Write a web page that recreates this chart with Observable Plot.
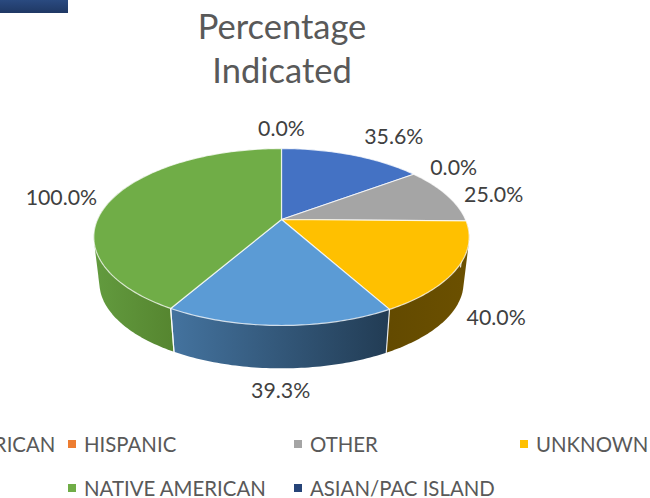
<!DOCTYPE html>
<html><head><meta charset="utf-8">
<script src="https://cdn.jsdelivr.net/npm/d3@7"></script>
<script src="https://cdn.jsdelivr.net/npm/@observablehq/plot@0.6"></script>
<style>
html,body{margin:0;padding:0;background:#fff;width:650px;height:498px;overflow:hidden;font-family:Lato,sans-serif}
#bar{position:absolute;left:0;top:0;width:68px;height:13px;background:linear-gradient(#2a4a80,#1f3864)}
#title{position:absolute;left:0;top:3.5px;width:564px;text-align:center;font-size:34.5px;line-height:44px;color:#595959;height:96px}
#chart{position:absolute;left:0;top:100px}
#legend{position:absolute;top:421.5px;left:-158px;display:grid;grid-template-columns:repeat(4,226px);grid-auto-rows:44px;font-size:20.4px;color:#595959}
#legend div{display:flex;align-items:center;white-space:nowrap}
#legend i{display:inline-block;width:8px;height:8px;margin-right:8px;flex:none}
svg{display:block}
</style></head><body>
<div id="bar"></div>
<div id="title">Percentage<br>Indicated</div>
<div id="chart"></div>
<div id="legend"></div>
<script>
const categories = ["AFRICAN AMERICAN","HISPANIC","OTHER","UNKNOWN","WHITE","NATIVE AMERICAN","ASIAN/PAC ISLAND"];
const values = [35.6,0,25,40,39.3,100,0];
const labels = ["35.6%","0.0%","25.0%","40.0%","39.3%","100.0%","0.0%"];
const colors = ["#4472C4","#ED7D31","#A5A5A5","#FFC000","#5B9BD5","#70AD47","#264478"];
const legendHidden = ["WHITE"]; // this entry lies beyond the right edge of the reference
const wallShades = {UNKNOWN:["#6b5000","#634a00"],WHITE:["#223c54","#44739f"],"NATIVE AMERICAN":["#568630","#629a3e"]};
const labelNudge = [[42,-17.5],[40,-6],[47,0],[39,50],[1,66],[-51,0],[0,-19]];

// perspective layout of the tilted disc
const top_ = {x0:281,y0:219,a:184,b:85}, bottom_ = {x0:281,y0:265,a:178.5,b:82.5}, tilt = 0.198;
const rim = (deg,r) => {
  const t = deg*Math.PI/180, X = Math.sin(t), Y = Math.cos(t), w = 1+tilt*Y;
  return {x:r.x0+r.a*X/w, y:r.y0-r.b*Y/w};
};
const total = d3.sum(values);
let acc = 0;
const slices = values.map((v,i)=>{const s=acc; acc+=v/total*360; return {i,cat:categories[i],v,start:s,end:acc,mid:(s+acc)/2};});

const faces=[], walls=[], seams=[], gradients=[];
for (const s of slices) {
  if (!s.v) continue;
  const id="f"+s.i, pts=[{x:top_.x0,y:top_.y0}];
  const n=Math.ceil(s.end-s.start);
  for(let k=0;k<=n;k++) pts.push(rim(s.start+(s.end-s.start)*k/n,top_));
  pts.push({x:top_.x0,y:top_.y0});
  pts.forEach(p=>faces.push({id,x:p.x,y:p.y,fill:colors[s.i]}));
  const shade=wallShades[s.cat];
  if(shade){
    const end=s.cat==="NATIVE AMERICAN"?300:s.end;
    const m=Math.ceil(end-s.start);
    const ring=r=>d3.range(m+1).map(k=>rim(s.start+(end-s.start)*k/m,r));
    const hull=d3.polygonHull([...ring(top_),...ring(bottom_)].map(p=>[p.x,p.y]));
    [...hull,hull[0]].forEach(p=>walls.push({id:"w"+s.i,x:p[0],y:p[1],fill:`url(#grad${s.i})`}));
    const a=rim(s.start,top_), b=rim(Math.min(s.end,270),top_);
    gradients.push({id:`grad${s.i}`,x1:a.x,x2:b.x,from:shade[0],to:shade[1]});
    seams.push({id:"s"+s.i,...rim(s.start,top_)},{id:"s"+s.i,...rim(s.start,bottom_)});
    if(s.cat==="WHITE") seams.push({id:"e"+s.i,...rim(s.end,top_)},{id:"e"+s.i,...rim(s.end,bottom_)});
  }
}
const textData=slices.map((s,i)=>{const p=rim(s.mid,top_);return {x:p.x+labelNudge[i][0],y:p.y+labelNudge[i][1],t:labels[i]};});

const gradientDefs=()=>{
  const defs=d3.create("svg:defs");
  for(const g of gradients){
    const lg=defs.append("linearGradient").attr("id",g.id).attr("gradientUnits","userSpaceOnUse")
      .attr("x1",g.x1).attr("x2",g.x2).attr("y1",0).attr("y2",0);
    lg.append("stop").attr("offset",0).attr("stop-color",g.from);
    lg.append("stop").attr("offset",1).attr("stop-color",g.to);
  }
  return defs.node();
};

const plot=Plot.plot({
  width:650,height:310,margin:0,
  x:{domain:[0,650],range:[0,650],axis:null},
  y:{domain:[100,410],range:[0,310],axis:null},
  marks:[
    gradientDefs,
    ...gradients.map(g=>Plot.line(walls.filter(d=>d.fill===`url(#${g.id})`),{x:"x",y:"y",z:"id",fill:`url(#${g.id})`,stroke:"none"})),
    Plot.line(seams,{x:"x",y:"y",z:"id",stroke:"#fff",strokeOpacity:0.85,strokeWidth:1.2}),
    Plot.line(faces,{x:"x",y:"y",z:"id",fill:"fill",stroke:"#fff",strokeOpacity:0.75,strokeWidth:1.2}),
    Plot.text(textData,{x:"x",y:"y",text:"t",fill:"#404040",fontSize:21.3,fontFamily:"Lato"})
  ]
});
document.getElementById("chart").append(plot);

const legend=document.getElementById("legend");
categories.forEach((c,i)=>{
  if(legendHidden.includes(c)) return;
  const d=document.createElement("div");
  const col=i<5?i+1:i-3, row=i<5?1:2;
  d.style.gridColumn=col; d.style.gridRow=row;
  d.innerHTML=`<i style="background:${i==6?"#264478":colors[i]}"></i>${c}`;
  legend.append(d);
});
</script>
</body></html>
